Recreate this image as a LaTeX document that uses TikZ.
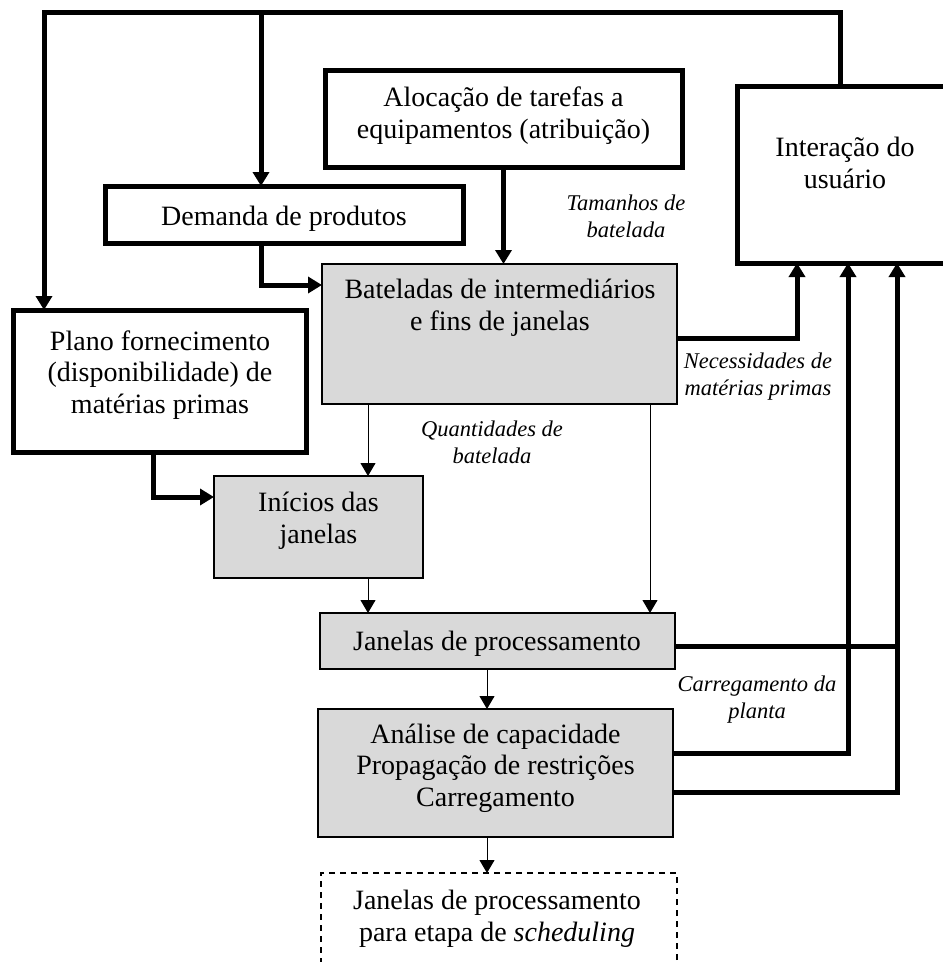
\documentclass[tikz,border=0pt]{standalone}
\usepackage{fontspec}
\setmainfont{Liberation Serif}
\usetikzlibrary{arrows.meta}
\definecolor{boxgray}{RGB}{217,217,217}
\begin{document}
\begin{tikzpicture}[x=1pt,y=-1pt,
  box/.style={draw, line width=5pt, rectangle, inner sep=0pt, outer sep=0pt},
  gbox/.style={draw, line width=1.5pt, fill=boxgray, rectangle, inner sep=0pt, outer sep=0pt},
  dbox/.style={draw, line width=1.5pt, dash pattern=on 6pt off 5pt, rectangle, inner sep=0pt, outer sep=0pt},
  txt/.style={align=center, inner sep=0pt, anchor=base, font=\fontsize{28}{31.5}\selectfont},
  lbl/.style={align=center, inner sep=0pt, anchor=base, font=\fontsize{22.5}{27}\selectfont\itshape},
  fat/.style={line width=5pt, -{Triangle[length=14pt,width=16pt]}},
  fatline/.style={line width=5pt},
  slim/.style={line width=1pt, -{Triangle[length=13pt,width=15pt]}},
]
\useasboundingbox (0,0) rectangle (943,962);

% boxes
\node[box, minimum width=357pt, minimum height=97pt]  (aloc) at (503.5,118.5) {};
\node[box, minimum width=216pt, minimum height=177pt] (int)  at (845,174.5) {};
\node[box, minimum width=358pt, minimum height=57pt]  (dem)  at (284,214.5) {};
\node[gbox, minimum width=355pt, minimum height=140pt] (bat) at (499.5,334) {};
\node[box, minimum width=293pt, minimum height=142pt] (pla)  at (159.5,381) {};
\node[gbox, minimum width=209pt, minimum height=102pt] (ini) at (318.5,527) {};
\node[gbox, minimum width=355pt, minimum height=56pt]  (jan) at (497.5,641) {};
\node[gbox, minimum width=355pt, minimum height=128pt] (ana) at (495.5,773) {};
\node[dbox, minimum width=356pt, minimum height=127pt] (sch) at (499,936.5) {};

% box texts (anchored on the baseline of the last line)
\node[txt] (aloc-t) at (503.5,138) {Alocação de tarefas a\\equipamentos (atribuição)};
\node[txt] (int-t)  at (845,188) {Interação do\\usuário};
\node[txt] (dem-t)  at (284,225) {Demanda de produtos};
\node[txt] (bat-t)  at (500,330) {Bateladas de intermediários\\e fins de janelas};
\node[txt] (pla-t)  at (160,413) {Plano fornecimento\\(disponibilidade) de\\matérias primas};
\node[txt] (ini-t)  at (318.5,543) {Inícios das\\janelas};
\node[txt] (jan-t)  at (497,650) {Janelas de processamento};
\node[txt] (ana-t)  at (495.5,806) {Análise de capacidade\\Propagação de restrições\\Carregamento};
\node[txt] (sch-t)  at (497,941) {Janelas de processamento\\para etapa de \textit{scheduling}};

% connector labels
\node[lbl] (tam) at (626,237) {Tamanhos de\\batelada};
\node[lbl] (qua) at (492,463) {Quantidades de\\batelada};
\node[lbl] (nec) at (758,395) {Necessidades de\\matérias primas};
\node[lbl] (car) at (757,718) {Carregamento da\\planta};

% route points
\coordinate (topL) at (44,12);
\coordinate (topB) at (261,12);
\coordinate (topR) at (840,12);
\coordinate (dm)   at (261,285);
\coordinate (pl)   at (153,497);
\coordinate (xq)   at (368,0);
\coordinate (xr)   at (650,0);
\coordinate (xs)   at (487,0);
\coordinate (nb)   at (797,338);
\coordinate (jr)   at (897,646);
\coordinate (a1)   at (848,753);
\coordinate (a2)   at (897,792);

% feedback from user interaction
\draw[fat] (int.north -| topR) -- (topR) -- (topL) -- (topL |- pla.north);
\draw[fat] (topB) -- (topB |- dem.north);

% thick flows
\draw[fat] (aloc.south) -- (aloc.south |- bat.north);
\draw[fat] (dem.south -| dm) -- (dm) -- (dm -| bat.west);
\draw[fat] (pla.south -| pl) -- (pl) -- (pl -| ini.west);
\draw[fat] (bat.east |- nb) -- (nb) -- (nb |- int.south);
\draw[fatline] (jan.east |- jr) -- (jr);
\draw[fat] (ana.east |- a1) -- (a1) -- (a1 |- int.south);
\draw[fat] (ana.east |- a2) -- (a2) -- (a2 |- int.south);

% thin flows
\draw[slim] (bat.south -| xq) -- (ini.north -| xq);
\draw[slim] (bat.south -| xr) -- (jan.north -| xr);
\draw[slim] (ini.south -| xq) -- (jan.north -| xq);
\draw[slim] (jan.south -| xs) -- (ana.north -| xs);
\draw[slim] (ana.south -| xs) -- (sch.north -| xs);
\end{tikzpicture}
\end{document}
